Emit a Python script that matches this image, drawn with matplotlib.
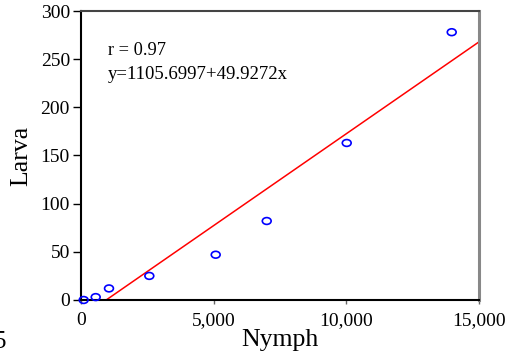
import matplotlib.pyplot as plt
from matplotlib.markers import MarkerStyle
from matplotlib.transforms import Affine2D
from matplotlib.ticker import FuncFormatter

# observed points (nymph count vs larva count)
nymph = [100, 554, 1055, 2575, 5077, 7000, 10015, 13972]
larva = [0, 3, 12, 25, 47, 82, 163, 278]

# fitted line as drawn in the figure
fit_intercept = -18.1
fit_slope = 0.01907
fit_x = [950, 15000]

x_ticks = [0, 5000, 10000, 15000]
y_ticks = [0, 50, 100, 150, 200, 250, 300]

plt.rcParams["font.family"] = ["Liberation Serif", "DejaVu Serif"]

fig = plt.figure(figsize=(5.05, 3.62), dpi=100)
ax = fig.add_axes([0.1604, 0.1713, 0.7881, 0.7983])

# regression line
fit_y = [fit_intercept + fit_slope * x for x in fit_x]
ax.plot(fit_x, fit_y, color="red", linewidth=1.1, zorder=2)

# points as open ellipses
ell = MarkerStyle("o", transform=Affine2D().scale(1.3, 1.0))
ax.scatter(nymph, larva, marker=ell, s=24, facecolors="none",
           edgecolors="blue", linewidths=1.2, zorder=3, clip_on=False)

ax.set_xlim(0, 15000)
ax.set_ylim(0, 300)
ax.set_xticks(x_ticks)
ax.set_yticks(y_ticks)
ax.xaxis.set_major_formatter(FuncFormatter(lambda v, p: f"{int(v):,}"))

ax.tick_params(axis="y", direction="out", length=6, width=1, labelsize=14, pad=2)
ax.tick_params(axis="x", direction="out", length=3, width=1, color="#666666",
               labelsize=14, pad=6)

for side in ["left", "bottom"]:
    ax.spines[side].set_linewidth(1.5)
    ax.spines[side].set_color("black")
ax.spines["top"].set_color("#444444")
ax.spines["top"].set_linewidth(1.5)
ax.spines["right"].set_color("#888888")
ax.spines["right"].set_linewidth(2.2)

ax.set_xlabel("Nymph", fontsize=18.5, labelpad=0)
ax.set_ylabel("Larva", fontsize=18.5, labelpad=6)

ax.text(0.068, 0.865, "r = 0.97", transform=ax.transAxes, fontsize=13.2, va="center")
ax.text(0.068, 0.78, "y=1105.6997+49.9272x", transform=ax.transAxes,
        fontsize=13.5, va="center")

# cut-off character at the lower-left edge of the original image
fig.text(0.0, 0.025, "5", fontsize=18, ha="center", va="bottom")

fig.savefig("out.png", dpi=100)
